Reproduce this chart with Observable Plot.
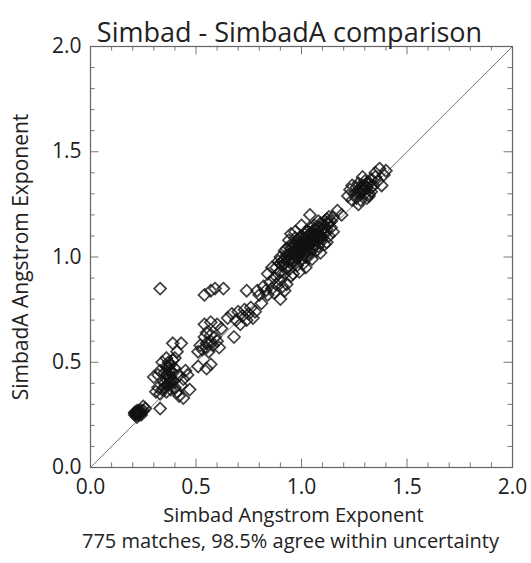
<!DOCTYPE html>
<html><head><meta charset="utf-8">
<script src="https://cdn.jsdelivr.net/npm/d3@7"></script>
<script src="https://cdn.jsdelivr.net/npm/@observablehq/plot@0.6"></script>
<style>body{margin:0;background:#fff}</style>
</head><body><div id="chart"></div>
<script>
const title = "Simbad - SimbadA comparison";
const xLabel = "Simbad Angstrom Exponent";
const yLabel = "SimbadA Angstrom Exponent";
const caption = "775 matches, 98.5% agree within uncertainty";
const majorTicks = [0.0, 0.5, 1.0, 1.5, 2.0];
const minorTicks = [0.1,0.2,0.3,0.4,0.6,0.7,0.8,0.9,1.1,1.2,1.3,1.4,1.6,1.7,1.8,1.9];
const diagonal = [0, 2];

// Simbad (x) values and SimbadA (y) values
const simbad = [
 0.21,0.22,0.23,0.22,0.24,0.21,0.23,0.24,0.22,0.25,0.26,0.33,0.25,0.22,0.23,
 0.30,0.31,0.32,0.33,0.34,0.35,0.36,0.37,0.38,0.35,0.36,0.37,0.39,0.40,0.41,0.42,0.44,0.43,0.35,0.36,0.37,0.38,0.39,0.40,0.36,0.34,0.38,0.40,0.42,0.44,0.46,0.47,0.33,0.32,0.39,0.43,0.41,0.45,0.37,0.38,
 0.51,0.55,0.57,0.51,0.52,0.53,0.55,0.56,0.57,0.58,0.59,0.60,0.54,0.55,0.57,0.61,0.54,0.57,0.60,0.62,0.55,
 0.33,0.54,0.57,0.59,0.63,0.74,
 0.68,0.65,0.67,0.69,0.70,0.72,0.73,0.75,0.76,0.77,0.71,0.74,0.78,
 0.79,0.80,0.81,0.82,0.83,0.84,0.85,0.86,0.87,0.87,0.88,0.89,0.90,0.91,0.92,0.93,0.94,0.95,0.84,0.86,0.90,0.92,
 0.88,0.89,0.90,0.90,0.91,0.92,0.92,0.93,0.93,0.94,0.94,0.95,0.95,0.96,0.96,0.97,0.97,0.97,0.98,0.98,0.98,0.99,0.99,1.00,1.00,1.00,1.01,1.01,1.01,1.02,1.02,1.02,1.03,1.03,1.03,1.04,1.04,1.04,1.05,1.05,1.05,1.06,1.06,1.06,1.07,1.07,1.07,1.08,1.08,1.08,1.09,1.09,1.10,1.10,1.11,1.11,1.12,1.12,1.13,1.13,1.14,1.15,1.15,1.04,1.17,1.19,0.99,1.02,0.96,1.09,1.12,0.97,1.00,0.94,0.95,
 1.00,1.01,1.03,1.05,1.06,0.98,0.99,1.02,1.04,1.07,1.08,1.10,0.97,0.96,1.01,1.03,1.05,1.09,1.11,1.00,
 0.90,0.92,0.93,0.95,0.96,0.97,0.98,0.99,1.00,1.01,1.02,1.03,1.04,1.05,1.06,1.07,1.08,1.09,1.10,1.11,1.12,1.13,1.14,0.94,0.97,1.00,1.03,1.06,1.09,0.91,0.95,0.99,1.02,1.05,1.08,1.11,
 1.22,1.23,1.24,1.25,1.26,1.26,1.27,1.28,1.28,1.29,1.30,1.30,1.31,1.31,1.32,1.33,1.33,1.34,1.35,1.36,1.35,1.37,1.39,1.40,1.38,1.27,1.24,1.29,1.30,1.32,1.28,
 1.27,1.29,1.31,1.33,1.30,1.28,1.32,
 0.21,0.23,0.22,0.24,0.36,0.37,0.38,0.39,0.37,0.36,0.38
];
const simbadA = [
 0.25,0.26,0.25,0.27,0.26,0.26,0.27,0.25,0.25,0.27,0.28,0.28,0.29,0.24,0.26,
 0.43,0.36,0.38,0.35,0.37,0.38,0.36,0.39,0.37,0.40,0.42,0.40,0.41,0.38,0.36,0.34,0.33,0.39,0.45,0.48,0.50,0.49,0.51,0.52,0.52,0.50,0.46,0.47,0.44,0.42,0.44,0.37,0.46,0.44,0.59,0.59,0.55,0.46,0.43,0.41,
 0.48,0.47,0.49,0.55,0.58,0.56,0.57,0.55,0.60,0.58,0.62,0.60,0.62,0.64,0.63,0.57,0.68,0.69,0.68,0.66,0.59,
 0.85,0.82,0.84,0.85,0.85,0.84,
 0.62,0.71,0.73,0.70,0.74,0.72,0.75,0.73,0.76,0.71,0.68,0.70,0.74,
 0.84,0.82,0.78,0.86,0.84,0.82,0.88,0.85,0.83,0.90,0.87,0.92,0.89,0.86,0.92,0.87,0.94,0.91,0.92,0.95,0.80,0.84,
 0.95,0.98,0.93,1.00,0.96,0.99,1.03,0.95,1.01,0.98,1.05,0.97,1.02,1.00,1.06,0.98,1.03,1.09,1.01,1.05,0.96,1.02,1.07,0.99,1.04,1.10,1.01,1.06,0.97,1.03,1.08,1.12,1.00,1.05,1.10,1.02,1.07,1.14,1.04,1.09,0.99,1.06,1.11,1.15,1.03,1.08,1.13,1.05,1.10,1.17,1.07,1.12,1.09,1.15,1.11,1.06,1.13,1.18,1.10,1.16,1.14,1.19,1.12,1.20,1.22,1.20,0.93,0.95,0.92,1.02,1.07,1.12,1.15,1.08,1.11,
 1.03,1.04,1.06,1.07,1.09,1.00,1.04,1.06,1.08,1.10,1.11,1.13,1.01,0.98,1.05,1.03,1.11,1.10,1.14,1.07,
 0.97,0.97,1.04,1.04,1.02,1.06,1.08,1.04,1.06,1.09,1.06,1.07,1.11,1.12,1.09,1.10,1.14,1.16,1.13,1.14,1.16,1.19,1.17,1.01,1.00,1.02,1.12,1.13,1.09,0.98,0.99,1.09,1.00,1.07,1.08,1.17,
 1.29,1.32,1.27,1.30,1.33,1.28,1.35,1.31,1.27,1.34,1.30,1.36,1.33,1.28,1.35,1.31,1.37,1.34,1.38,1.36,1.40,1.42,1.39,1.41,1.34,1.25,1.34,1.38,1.32,1.30,1.33,
 1.31,1.32,1.35,1.33,1.34,1.30,1.29,
 0.26,0.26,0.26,0.27,0.44,0.46,0.40,0.45,0.48,0.39,0.43
];

const points = simbad.map((x, i) => ({x, y: simbadA[i]}));
const F = "'Open Sans', 'Noto Sans', sans-serif";

const chart = Plot.plot({
  width: 531, height: 563,
  marginLeft: 90, marginRight: 19, marginTop: 46, marginBottom: 96,
  style: {fontFamily: F, fontSize: "20px", color: "#222", background: "#fff"},
  x: {domain: [0, 2]},
  y: {domain: [0, 2]},
  marks: [
    Plot.line(diagonal, {x: d => d, y: d => d, stroke: "#777", strokeWidth: 1}),
    Plot.dot(points, {x: "x", y: "y", symbol: "diamond2", r: 5.4, stroke: "#111", strokeOpacity: 0.8, strokeWidth: 1.7, fill: "none"}),
    // inward ticks, bottom & top
    Plot.ruleX(minorTicks, {x: d => d, y1: 0, y2: 0.022, stroke: "#777"}),
    Plot.ruleX(minorTicks, {x: d => d, y1: 2, y2: 1.978, stroke: "#777"}),
    Plot.ruleX(majorTicks, {x: d => d, y1: 0, y2: 0.04, stroke: "#777"}),
    Plot.ruleX(majorTicks, {x: d => d, y1: 2, y2: 1.96, stroke: "#777"}),
    // inward ticks, left & right
    Plot.ruleY(minorTicks, {y: d => d, x1: 0, x2: 0.022, stroke: "#777"}),
    Plot.ruleY(minorTicks, {y: d => d, x1: 2, x2: 1.978, stroke: "#777"}),
    Plot.ruleY(majorTicks, {y: d => d, x1: 0, x2: 0.04, stroke: "#777"}),
    Plot.ruleY(majorTicks, {y: d => d, x1: 2, x2: 1.96, stroke: "#777"}),
    Plot.frame({stroke: "#666", strokeWidth: 1.2}),
    Plot.axisX(majorTicks, {tickSize: 0, tickPadding: 12, tickFormat: d => d.toFixed(1), label: null, fontSize: 21, fill: "#222"}),
    Plot.axisY(majorTicks, {tickSize: 0, tickPadding: 9, tickFormat: d => d.toFixed(1), label: null, fontSize: 21, fill: "#222"}),
    Plot.text([title], {frameAnchor: "top", dx: -12, dy: -24, fontSize: 27, fill: "#222"}),
    Plot.text([xLabel], {frameAnchor: "bottom", dx: -8, dy: 54, fontSize: 20, fill: "#222"}),
    Plot.text([caption], {frameAnchor: "bottom", dx: -11, dy: 80, fontSize: 20, fill: "#222"}),
    Plot.text([yLabel], {frameAnchor: "left", dx: -69, rotate: -90, textAnchor: "middle", fontSize: 21, fill: "#222"})
  ]
});
document.getElementById("chart").append(chart);
</script>
</body></html>
